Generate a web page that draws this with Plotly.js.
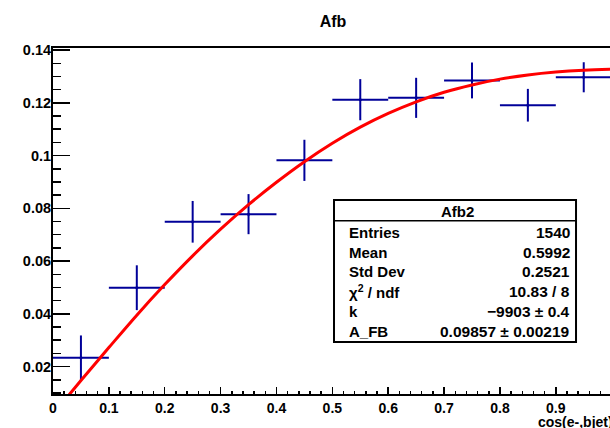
<!DOCTYPE html>
<html>
<head>
<meta charset="utf-8">
<script src="https://cdn.plot.ly/plotly-3.0.1.min.js"></script>
<style>html,body{margin:0;padding:0;background:#fff;}#chart{width:610px;height:428px;}</style>
</head>
<body>
<div id="chart"></div>
<script>
// ---- data ----
const binX   = [0.05, 0.15, 0.25, 0.35, 0.45, 0.55, 0.65, 0.75, 0.85, 0.95];
const binY   = [0.0233, 0.0499, 0.0749, 0.0778, 0.0982, 0.1212, 0.1219, 0.1285, 0.1191, 0.1297];
const binErr = [0.0085, 0.0085, 0.0079, 0.0076, 0.0078, 0.0078, 0.0076, 0.0068, 0.0062, 0.0057];
const binHalfWidth = [0.05, 0.05, 0.05, 0.05, 0.05, 0.05, 0.05, 0.05, 0.05, 0.05];

const fitX = [0.02, 0.03, 0.05, 0.1, 0.15, 0.2, 0.25, 0.3, 0.35, 0.4, 0.45, 0.5, 0.55, 0.6, 0.65, 0.7, 0.75, 0.8, 0.85, 0.9, 0.95, 1.0];
const fitY = [0.0071, 0.0096, 0.0147, 0.0272, 0.0395, 0.0511, 0.0620, 0.0721, 0.0814, 0.0899, 0.0977, 0.1047, 0.1108, 0.1160, 0.1204, 0.1240, 0.1268, 0.1290, 0.1306, 0.1317, 0.1324, 0.1328];

const chartTitle = "Afb";
const xTitle = "cos(e-,bjet)";
const statsTitle = "Afb2";
const statsLabels = ["Entries", "Mean", "Std Dev", "χ<sup>2</sup> / ndf", "k", "A_FB"];
const statsValues = ["1540", "0.5992", "0.2521", "10.83 / 8", "\u22129903 \u00b1 0.4", "0.09857 \u00b1 0.00219"];

// ---- styling ----
const FONT = "Liberation Sans, Arial, Helvetica, sans-serif";
const dataColor = "#000099";

const traces = [
  {
    type: "scatter", mode: "markers",
    x: binX, y: binY,
    marker: {size: 3, color: dataColor},
    error_x: {type: "data", array: binHalfWidth, visible: true, color: dataColor, thickness: 2, width: 0},
    error_y: {type: "data", array: binErr, visible: true, color: dataColor, thickness: 2, width: 0},
    showlegend: false, hoverinfo: "skip"
  },
  {
    type: "scatter", mode: "lines",
    x: fitX, y: fitY,
    line: {color: "#ff0000", width: 3, shape: "spline", smoothing: 1},
    showlegend: false, hoverinfo: "skip"
  }
];

// stats box geometry (paper coords)
const bx0 = 0.5045, bx1 = 0.939, by0 = 0.150, by1 = 0.5607, bsep = 0.5009;
const rowY = [0.4662, 0.4104, 0.3535, 0.2957, 0.2379, 0.1801];

const annotations = [];
annotations.push({xref: "paper", yref: "paper", x: 0.727, y: 0.5285, text: statsTitle, showarrow: false,
  xanchor: "center", yanchor: "middle", font: {family: FONT, size: 15, color: "#000", weight: "bold"}});
statsLabels.forEach((lab, i) => {
  annotations.push({xref: "paper", yref: "paper", x: 0.527, y: rowY[i], text: lab, showarrow: false,
    xanchor: "left", yanchor: "middle", font: {family: FONT, size: 15, color: "#000", weight: "bold"}});
  annotations.push({xref: "paper", yref: "paper", x: 0.932, y: rowY[i], text: statsValues[i], showarrow: false,
    xanchor: "right", yanchor: "middle", font: {family: FONT, size: 15.5, color: "#000", weight: "bold"}});
});
annotations.push({xref: "paper", yref: "paper", x: 1.009, y: -0.082, text: xTitle, showarrow: false,
  xanchor: "right", yanchor: "middle", font: {family: FONT, size: 14, color: "#000", weight: "bold"}});

const layout = {
  width: 610, height: 428,
  margin: {l: 53, r: 0, t: 48, b: 34, pad: 0},
  paper_bgcolor: "#fff", plot_bgcolor: "#fff",
  font: {family: FONT, color: "#000"},
  title: {text: chartTitle, x: 0.546, xanchor: "center", xref: "container", y: 0.951, yanchor: "middle",
    font: {family: FONT, size: 16, color: "#000", weight: "bold"}},
  xaxis: {
    range: [0, 0.997], tick0: 0, dtick: 0.1, tickformat: ".1~f",
    ticks: "inside", ticklen: 7, tickwidth: 1.5, tickcolor: "#000",
    minor: {dtick: 0.02, ticks: "inside", ticklen: 3.5, tickwidth: 1.5, tickcolor: "#000", showgrid: false},
    showline: true, linewidth: 2, linecolor: "#000", mirror: true,
    showgrid: false, zeroline: false,
    tickfont: {family: FONT, size: 14, color: "#000", weight: "bold"}
  },
  yaxis: {
    range: [0.0096, 0.1408], tick0: 0, dtick: 0.02, tickformat: ".2~f",
    ticks: "inside", ticklen: 17, tickwidth: 1.5, tickcolor: "#000",
    minor: {dtick: 0.005, ticks: "inside", ticklen: 8, tickwidth: 1.5, tickcolor: "#000", showgrid: false},
    showline: true, linewidth: 2, linecolor: "#000", mirror: true,
    showgrid: false, zeroline: false, ticklabelstandoff: -3,
    tickfont: {family: FONT, size: 14.5, color: "#000", weight: "bold"}
  },
  shapes: [
    {type: "rect", xref: "paper", yref: "paper", x0: bx0, x1: bx1, y0: by0, y1: by1,
      line: {color: "#000", width: 2}, fillcolor: "#fff", layer: "above"},
    {type: "line", xref: "paper", yref: "paper", x0: bx0, x1: bx1, y0: bsep, y1: bsep,
      line: {color: "#000", width: 1.5}, layer: "above"}
  ],
  annotations: annotations
};

Plotly.newPlot("chart", traces, layout, {staticPlot: true, displayModeBar: false});
</script>
</body>
</html>
